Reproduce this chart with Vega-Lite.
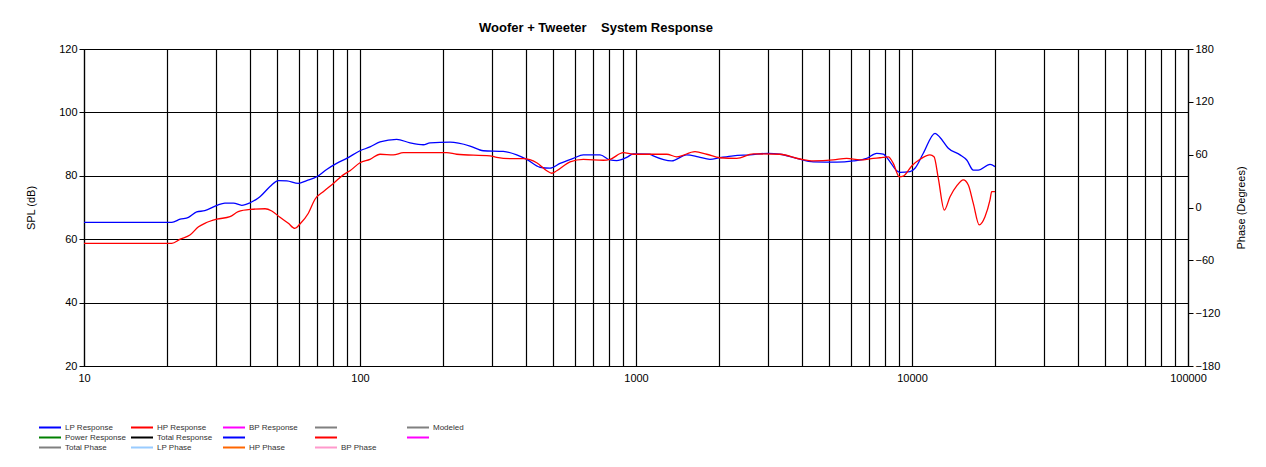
{
  "$schema": "https://vega.github.io/schema/vega-lite/v6.json",
  "width": 1104,
  "height": 317,
  "autosize": {"type": "none"},
  "padding": {"left": 84, "top": 49, "right": 78, "bottom": 101},
  "background": "white",
  "title": {
    "text": "Woofer + Tweeter\u00a0\u00a0\u00a0\u00a0System Response",
    "fontSize": 13,
    "fontWeight": "bold",
    "font": "Liberation Sans",
    "color": "#000000",
    "anchor": "middle",
    "frame": "group",
    "dx": -40,
    "offset": 8
  },
  "config": {
    "font": "Liberation Sans",
    "view": {"stroke": "#000000", "strokeWidth": 1},
    "axis": {
      "labelFont": "Liberation Sans",
      "titleFont": "Liberation Sans",
      "labelColor": "#000000",
      "titleColor": "#000000",
      "labelFontSize": 11,
      "titleFontSize": 11,
      "titleFontWeight": "normal",
      "domainColor": "#000000",
      "tickColor": "#000000",
      "gridColor": "#000000",
      "gridOpacity": 1,
      "gridWidth": 1.2
    }
  },
  "layer": [
    {
      "data": {
        "values": [
          {"s": "LP Response", "f": 10, "db": 65.3},
          {"s": "LP Response", "f": 20.8, "db": 65.3},
          {"s": "LP Response", "f": 22.3, "db": 66.3},
          {"s": "LP Response", "f": 23.9, "db": 66.9},
          {"s": "LP Response", "f": 25.6, "db": 68.6},
          {"s": "LP Response", "f": 27.4, "db": 69.0},
          {"s": "LP Response", "f": 30.3, "db": 70.7},
          {"s": "LP Response", "f": 32.4, "db": 71.4},
          {"s": "LP Response", "f": 34.8, "db": 71.4},
          {"s": "LP Response", "f": 37.3, "db": 70.7},
          {"s": "LP Response", "f": 40.0, "db": 71.5},
          {"s": "LP Response", "f": 43.4, "db": 73.4},
          {"s": "LP Response", "f": 47.2, "db": 76.6},
          {"s": "LP Response", "f": 50.6, "db": 78.5},
          {"s": "LP Response", "f": 54.3, "db": 78.4},
          {"s": "LP Response", "f": 59.8, "db": 77.6},
          {"s": "LP Response", "f": 64.1, "db": 78.5},
          {"s": "LP Response", "f": 69.7, "db": 79.7},
          {"s": "LP Response", "f": 75.7, "db": 82.0},
          {"s": "LP Response", "f": 82.3, "db": 83.9},
          {"s": "LP Response", "f": 89.5, "db": 85.5},
          {"s": "LP Response", "f": 100, "db": 87.9},
          {"s": "LP Response", "f": 108.7, "db": 89.1},
          {"s": "LP Response", "f": 118.2, "db": 90.7},
          {"s": "LP Response", "f": 135.8, "db": 91.5},
          {"s": "LP Response", "f": 151.8, "db": 90.4},
          {"s": "LP Response", "f": 169.6, "db": 89.8},
          {"s": "LP Response", "f": 179.3, "db": 90.4},
          {"s": "LP Response", "f": 211.9, "db": 90.6},
          {"s": "LP Response", "f": 250.4, "db": 89.4},
          {"s": "LP Response", "f": 279.8, "db": 87.9},
          {"s": "LP Response", "f": 330.5, "db": 87.7},
          {"s": "LP Response", "f": 369.7, "db": 86.6},
          {"s": "LP Response", "f": 401.8, "db": 85.2},
          {"s": "LP Response", "f": 448.9, "db": 82.7},
          {"s": "LP Response", "f": 488, "db": 82.4},
          {"s": "LP Response", "f": 530.5, "db": 83.9},
          {"s": "LP Response", "f": 592.7, "db": 85.5},
          {"s": "LP Response", "f": 644.4, "db": 86.6},
          {"s": "LP Response", "f": 740.7, "db": 86.6},
          {"s": "LP Response", "f": 805.1, "db": 85.0},
          {"s": "LP Response", "f": 851.2, "db": 84.8},
          {"s": "LP Response", "f": 925.3, "db": 85.8},
          {"s": "LP Response", "f": 977.7, "db": 86.9},
          {"s": "LP Response", "f": 1123, "db": 86.8},
          {"s": "LP Response", "f": 1155, "db": 86.3},
          {"s": "LP Response", "f": 1347, "db": 84.7},
          {"s": "LP Response", "f": 1526, "db": 86.6},
          {"s": "LP Response", "f": 1681, "db": 86.0},
          {"s": "LP Response", "f": 1854, "db": 85.2},
          {"s": "LP Response", "f": 2015, "db": 85.7},
          {"s": "LP Response", "f": 2252, "db": 86.3},
          {"s": "LP Response", "f": 2588, "db": 86.6},
          {"s": "LP Response", "f": 3016, "db": 87.1},
          {"s": "LP Response", "f": 3325, "db": 86.8},
          {"s": "LP Response", "f": 3822, "db": 85.5},
          {"s": "LP Response", "f": 4390, "db": 84.4},
          {"s": "LP Response", "f": 5336, "db": 84.3},
          {"s": "LP Response", "f": 6129, "db": 84.7},
          {"s": "LP Response", "f": 6855, "db": 85.5},
          {"s": "LP Response", "f": 7447, "db": 87.1},
          {"s": "LP Response", "f": 7870, "db": 86.8},
          {"s": "LP Response", "f": 8325, "db": 84.4},
          {"s": "LP Response", "f": 8804, "db": 81.6},
          {"s": "LP Response", "f": 9048, "db": 81.1},
          {"s": "LP Response", "f": 9835, "db": 81.3},
          {"s": "LP Response", "f": 10254, "db": 82.4},
          {"s": "LP Response", "f": 10988, "db": 87.1},
          {"s": "LP Response", "f": 12118, "db": 93.4},
          {"s": "LP Response", "f": 12636, "db": 92.1},
          {"s": "LP Response", "f": 13539, "db": 88.7},
          {"s": "LP Response", "f": 14927, "db": 86.6},
          {"s": "LP Response", "f": 15785, "db": 85.0},
          {"s": "LP Response", "f": 16677, "db": 81.8},
          {"s": "LP Response", "f": 17388, "db": 81.8},
          {"s": "LP Response", "f": 19170, "db": 83.6},
          {"s": "LP Response", "f": 19985, "db": 82.9},
          {"s": "HP Response", "f": 10, "db": 58.7},
          {"s": "HP Response", "f": 20.8, "db": 58.7},
          {"s": "HP Response", "f": 22.3, "db": 60.0},
          {"s": "HP Response", "f": 24.2, "db": 61.3},
          {"s": "HP Response", "f": 26.0, "db": 63.9},
          {"s": "HP Response", "f": 27.4, "db": 65.0},
          {"s": "HP Response", "f": 30.3, "db": 66.3},
          {"s": "HP Response", "f": 33.8, "db": 67.1},
          {"s": "HP Response", "f": 36.2, "db": 68.7},
          {"s": "HP Response", "f": 40.0, "db": 69.4},
          {"s": "HP Response", "f": 45.3, "db": 69.6},
          {"s": "HP Response", "f": 47.9, "db": 68.9},
          {"s": "HP Response", "f": 51.3, "db": 66.9},
          {"s": "HP Response", "f": 55.0, "db": 65.0},
          {"s": "HP Response", "f": 58.1, "db": 63.4},
          {"s": "HP Response", "f": 60.6, "db": 64.8},
          {"s": "HP Response", "f": 65.0, "db": 68.2},
          {"s": "HP Response", "f": 68.7, "db": 72.6},
          {"s": "HP Response", "f": 73.6, "db": 75.0},
          {"s": "HP Response", "f": 80.1, "db": 77.6},
          {"s": "HP Response", "f": 87.0, "db": 80.3},
          {"s": "HP Response", "f": 92.0, "db": 81.6},
          {"s": "HP Response", "f": 100, "db": 84.1},
          {"s": "HP Response", "f": 108.7, "db": 85.2},
          {"s": "HP Response", "f": 118.2, "db": 86.8},
          {"s": "HP Response", "f": 132.0, "db": 86.6},
          {"s": "HP Response", "f": 143.6, "db": 87.3},
          {"s": "HP Response", "f": 206.2, "db": 87.3},
          {"s": "HP Response", "f": 224.0, "db": 86.8},
          {"s": "HP Response", "f": 295.8, "db": 86.3},
          {"s": "HP Response", "f": 312.8, "db": 85.8},
          {"s": "HP Response", "f": 349.6, "db": 85.4},
          {"s": "HP Response", "f": 390.6, "db": 85.4},
          {"s": "HP Response", "f": 436.8, "db": 84.1},
          {"s": "HP Response", "f": 474.8, "db": 81.6},
          {"s": "HP Response", "f": 495.0, "db": 80.8},
          {"s": "HP Response", "f": 516.2, "db": 81.6},
          {"s": "HP Response", "f": 576.9, "db": 84.4},
          {"s": "HP Response", "f": 644.4, "db": 85.2},
          {"s": "HP Response", "f": 761.3, "db": 84.9},
          {"s": "HP Response", "f": 805.1, "db": 85.2},
          {"s": "HP Response", "f": 899.5, "db": 87.3},
          {"s": "HP Response", "f": 977.7, "db": 86.8},
          {"s": "HP Response", "f": 1123, "db": 86.8},
          {"s": "HP Response", "f": 1292, "db": 86.8},
          {"s": "HP Response", "f": 1405, "db": 86.0},
          {"s": "HP Response", "f": 1636, "db": 87.6},
          {"s": "HP Response", "f": 1804, "db": 86.8},
          {"s": "HP Response", "f": 2015, "db": 85.7},
          {"s": "HP Response", "f": 2317, "db": 85.5},
          {"s": "HP Response", "f": 2661, "db": 86.9},
          {"s": "HP Response", "f": 3325, "db": 86.8},
          {"s": "HP Response", "f": 3928, "db": 85.3},
          {"s": "HP Response", "f": 4390, "db": 84.7},
          {"s": "HP Response", "f": 5187, "db": 85.0},
          {"s": "HP Response", "f": 5800, "db": 85.5},
          {"s": "HP Response", "f": 6481, "db": 85.0},
          {"s": "HP Response", "f": 7241, "db": 85.5},
          {"s": "HP Response", "f": 7657, "db": 85.7},
          {"s": "HP Response", "f": 8206, "db": 86.0},
          {"s": "HP Response", "f": 8556, "db": 83.9},
          {"s": "HP Response", "f": 8995, "db": 79.7},
          {"s": "HP Response", "f": 9300, "db": 79.9},
          {"s": "HP Response", "f": 9975, "db": 83.1},
          {"s": "HP Response", "f": 10690, "db": 85.2},
          {"s": "HP Response", "f": 11620, "db": 86.6},
          {"s": "HP Response", "f": 12017, "db": 86.0},
          {"s": "HP Response", "f": 12456, "db": 79.2},
          {"s": "HP Response", "f": 13092, "db": 69.2},
          {"s": "HP Response", "f": 13734, "db": 73.4},
          {"s": "HP Response", "f": 14521, "db": 76.8},
          {"s": "HP Response", "f": 15346, "db": 78.7},
          {"s": "HP Response", "f": 15996, "db": 77.1},
          {"s": "HP Response", "f": 16677, "db": 71.3},
          {"s": "HP Response", "f": 17525, "db": 64.5},
          {"s": "HP Response", "f": 18384, "db": 67.1},
          {"s": "HP Response", "f": 19170, "db": 72.4},
          {"s": "HP Response", "f": 19445, "db": 75.0},
          {"s": "HP Response", "f": 19985, "db": 75.0}
        ]
      },
      "mark": {"type": "line", "strokeWidth": 1.3, "clip": true, "interpolate": "monotone"},
      "encoding": {
        "x": {
          "field": "f",
          "type": "quantitative",
          "scale": {"type": "log", "domain": [10, 100000], "nice": false},
          "axis": {
            "title": null,
            "values": [10, 20, 30, 40, 50, 60, 70, 80, 90, 100, 200, 300, 400, 500, 600, 700, 800, 900, 1000, 2000, 3000, 4000, 5000, 6000, 7000, 8000, 9000, 10000, 20000, 30000, 40000, 50000, 60000, 70000, 80000, 90000, 100000],
            "format": "d",
            "labelExpr": "indexof(['10','100','1000','10000','100000'], datum.label) >= 0 ? datum.label : ''",
            "labelOverlap": false,
            "labelFlush": false,
            "grid": true,
            "ticks": false,
            "labelPadding": 6,
            "domainWidth": 1.2
          }
        },
        "y": {
          "field": "db",
          "type": "quantitative",
          "scale": {"domain": [20, 120], "nice": false, "zero": false},
          "axis": {
            "title": "SPL (dB)",
            "values": [20, 40, 60, 80, 100, 120],
            "grid": true,
            "tickSize": 5,
            "labelPadding": 2,
            "titlePadding": 22,
            "domainWidth": 1.2
          }
        },
        "color": {
          "field": "s",
          "type": "nominal",
          "scale": {
            "domain": ["LP Response", "HP Response", "BP Response", "_a", "Modeled", "Power Response", "Total Response", "_b", "_c", "_d", "Total Phase", "LP Phase", "HP Phase", "BP Phase"],
            "range": ["#0000ff", "#ff0000", "#ff00ff", "#808080", "#808080", "#008000", "#000000", "#0000ff", "#ff0000", "#ff00ff", "#808080", "#99ccff", "#ff6600", "#ff99cc"]
          },
          "legend": {
            "title": null,
            "orient": "none",
            "legendX": -46,
            "legendY": 374,
            "columns": 5,
            "direction": "horizontal",
            "gridAlign": "all",
            "symbolType": "stroke",
            "symbolSize": 484,
            "symbolStrokeWidth": 2,
            "labelFontSize": 8,
            "labelColor": "#333333",
            "labelOffset": 3,
            "labelLimit": 80,
            "columnPadding": 4,
            "rowPadding": 1,
            "clipHeight": 9,
            "labelExpr": "indexof(datum.label, '_') == 0 ? '' : datum.label"
          }
        }
      }
    },
    {
      "data": {"values": [{"ph": -180}, {"ph": 180}]},
      "mark": {"type": "point", "opacity": 0},
      "encoding": {
        "y": {
          "field": "ph",
          "type": "quantitative",
          "scale": {"domain": [-180, 180], "nice": false, "zero": false},
          "axis": {
            "orient": "right",
            "title": "Phase (Degrees)",
            "values": [-180, -120, -60, 0, 60, 120, 180],
            "grid": false,
            "tickSize": 5,
            "labelPadding": 2,
            "titlePadding": 16,
            "titleAngle": -90,
            "titleBaseline": "top",
            "domainWidth": 1.2
          }
        }
      }
    }
  ],
  "resolve": {"scale": {"y": "independent"}, "axis": {"y": "independent"}}
}
